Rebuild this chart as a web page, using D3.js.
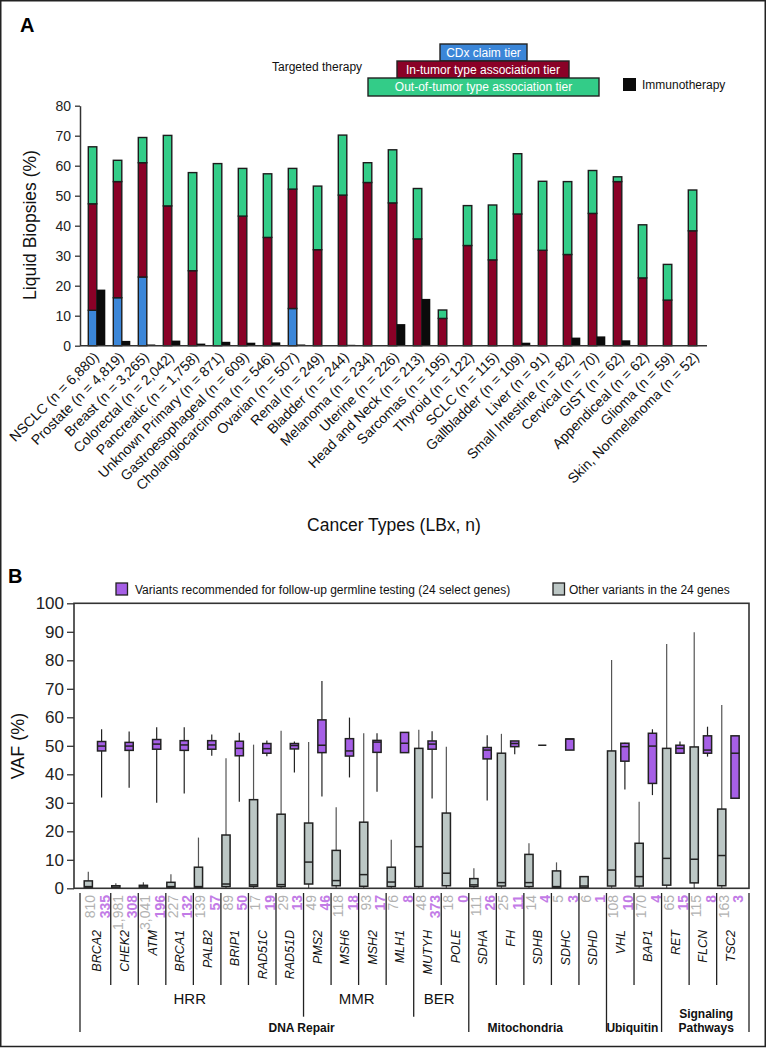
<!DOCTYPE html>
<html><head><meta charset="utf-8">
<script src="https://cdn.jsdelivr.net/npm/d3@7"></script>
<style>body{margin:0;background:#fff}svg{display:block;font-family:"Liberation Sans",Arial,Helvetica,sans-serif}</style>
</head><body>
<svg id="c" width="768" height="1048"></svg>
<script>
// ---------------- Panel A data ----------------
const cancerTypes = ["NSCLC","Prostate","Breast","Colorectal","Pancreatic","Unknown Primary","Gastroesophageal","Cholangiocarcinoma","Ovarian","Renal","Bladder","Melanoma","Uterine","Head and Neck","Sarcomas","Thyroid","SCLC","Gallbladder","Liver","Small Intestine","Cervical","GIST","Appendiceal","Glioma","Skin, Nonmelanoma"];
const nLBx = [6880,4819,3265,2042,1758,871,609,546,507,249,244,234,226,213,195,122,115,109,91,82,70,62,62,59,52];
const cdxTier      = [11.8,16.0,22.9,0,0,0,0,0,12.4,0,0,0,0,0,0,0,0,0,0,0,0,0,0,0,0];
const inTumorTier  = [35.5,38.7,38.1,46.6,25.0,0,43.2,36.1,39.8,32.0,50.2,54.4,47.6,35.6,9.1,33.4,28.6,43.9,31.8,30.4,44.1,54.7,22.6,15.2,38.3];
const outTumorTier = [19.0,7.1,8.4,23.5,32.7,60.7,15.9,21.2,6.9,21.2,20.0,6.6,17.7,16.8,2.8,13.3,18.3,20.1,23.0,24.3,14.3,1.6,17.7,11.9,13.6];
const immunotherapy = [18.7,1.6,0.4,1.7,0.7,1.3,1.0,1.1,0.4,0,0.3,0,7.2,15.6,0,0,0,1.0,0,2.7,3.1,1.8,0,0,0];
const yTicksA = [0,10,20,30,40,50,60,70,80];

// ---------------- Panel B data ----------------
const genes = ["BRCA2","CHEK2","ATM","BRCA1","PALB2","BRIP1","RAD51C","RAD51D","PMS2","MSH6","MSH2","MLH1","MUTYH","POLE","SDHA","FH","SDHB","SDHC","SDHD","VHL","BAP1","RET","FLCN","TSC2"];
const otherCounts = [810,1981,3041,227,139,89,17,29,49,118,93,76,48,18,111,25,14,5,6,108,170,65,115,163];
const recCounts   = [335,308,196,132,57,50,19,13,46,18,17,8,373,0,26,11,4,3,1,10,4,15,8,3];
// [min, q1, median, q3, max]
const otherStats = [
  [0,0.2,0.6,2.6,5.8],[0,0.1,0.4,0.9,1.8],[0,0.1,0.5,1.05,2.1],[0,0.2,0.6,2.1,4.9],
  [0,0.2,0.6,7.4,17.8],[0,0.6,1.5,18.7,45.6],[0,0.7,1.2,31.1,50.4],[0,0.6,1.3,26.0,55.3],
  [0,1.5,9.2,22.9,51.3],[0,0.9,2.7,13.3,28.4],[0,0.7,4.8,23.2,54.4],[0,0.6,2.2,7.4,17.0],
  [0,0.6,14.6,49.1,55.6],[0,0.9,5.3,26.4,49.7],[0,0.6,1.2,3.4,7.0],[0,0.8,2.0,47.4,54.2],
  [0,0.6,2.0,11.9,15.8],[0,0.2,0.6,6.1,9.1],[0,0.2,0.8,4.1,4.1],[0,0.8,6.4,48.2,80.1],
  [0,0.8,4.1,15.8,30.4],[0,1.1,10.5,49.1,85.7],[0,1.9,10.2,49.6,89.8],[0,0.9,11.5,27.8,64.3]
];
const recStats = [
  [31.9,48.2,49.9,51.5,55.8],[35.3,48.4,49.9,51.2,55.0],[30.0,48.8,50.6,52.2,56.5],[33.3,48.4,50.3,51.8,56.5],
  [46.5,48.8,50.3,51.8,54.0],[30.4,46.5,49.1,51.6,54.6],[46.3,47.4,49.0,50.8,51.9],[40.6,48.9,50.1,50.8,51.5],
  [32.2,47.6,50.2,59.1,72.7],[38.9,46.4,48.2,52.5,59.9],[33.9,47.7,51.3,51.9,54.4],[47.6,47.6,50.9,54.7,54.7],
  [31.5,48.8,50.6,51.7,55.1],null,[30.8,45.4,48.5,49.4,53.7],[47.0,49.7,50.8,51.7,51.7],
  [50.2,50.2,50.2,50.2,50.2],[48.5,48.5,52.4,52.4,52.4],null,[34.7,44.6,49.7,50.9,51.1],
  [32.7,36.8,49.9,54.4,55.8],[47.4,47.4,49.1,50.2,51.5],[46.2,47.4,48.5,53.5,56.7],[31.6,31.6,47.4,53.5,53.5]
];
const yTicksB = [0,10,20,30,40,50,60,70,80,90,100];
const subgroups = [{name:"HRR",from:0,to:7},{name:"MMR",from:8,to:11},{name:"BER",from:12,to:13}];
const groups = [
  {lines:["DNA Repair"],from:0,to:13,pos:0.57},
  {lines:["Mitochondria"],from:14,to:18,pos:0.41},
  {lines:["Ubiquitin"],from:19,to:20,pos:0.47},
  {lines:["Signaling","Pathways"],from:21,to:23,pos:0.51}
];

// ---------------- colors ----------------
const C = {cdx:"#3b86d8", inT:"#8a0127", outT:"#33cc88", immuno:"#0b0b0b", rec:"#a65fe6", other:"#bcc7c5",
           stroke:"#1c1c1c", recText:"#c27be6", otherText:"#b2b2b2"};

const svg = d3.select("#c");
svg.append("rect").attr("x",0.75).attr("y",0.75).attr("width",764.5).attr("height",1045.75)
  .attr("fill","none").attr("stroke","#222").attr("stroke-width",1.5);

// ================= PANEL A =================
svg.append("text").attr("x",20).attr("y",32).attr("font-size",20).attr("font-weight","bold").text("A");

const fmt = d3.format(",");
const labelsA = cancerTypes.map((c,i)=>`${c} (n = ${fmt(nLBx[i])})`);
const yA = d3.scaleLinear().domain([0,80]).range([345.7,105.7]);
const xA = d3.scaleBand().domain(labelsA).range([80,705]);
const sub = d3.scaleBand().domain(["targeted","immuno"]).range([8.3,25.3]);

const rowsA = labelsA.map((l,i)=>({label:l, cdx:cdxTier[i], inT:inTumorTier[i], outT:outTumorTier[i], immuno:immunotherapy[i]}));
const stack = d3.stack().keys(["cdx","inT","outT"])(rowsA);
const gA = svg.append("g");
stack.forEach(layer=>{
  gA.selectAll(null).data(layer.filter(d=>d[1]-d[0]>0)).join("rect")
    .attr("x",d=>xA(d.data.label)+sub("targeted"))
    .attr("width",sub.bandwidth())
    .attr("y",d=>yA(d[1]))
    .attr("height",d=>yA(d[0])-yA(d[1]))
    .attr("fill",C[layer.key]).attr("stroke",C.stroke).attr("stroke-width",1.4);
});
gA.selectAll(null).data(rowsA.filter(d=>d.immuno>0)).join("rect")
  .attr("x",d=>xA(d.label)+sub("immuno"))
  .attr("width",sub.bandwidth())
  .attr("y",d=>yA(d.immuno))
  .attr("height",d=>yA(0)-yA(d.immuno))
  .attr("fill",C.immuno);

const axA = svg.append("g").attr("transform","translate(80,0)")
  .call(d3.axisLeft(yA).tickValues(yTicksA).tickSize(5).tickSizeOuter(0).tickPadding(4));
axA.select(".domain").attr("stroke","#333").attr("stroke-width",1.5);
axA.selectAll(".tick line").attr("stroke","#333").attr("stroke-width",1.3);
axA.selectAll(".tick text").attr("font-size",14).attr("fill","#222").attr("font-family","inherit");
svg.append("line").attr("x1",80).attr("x2",707).attr("y1",yA(0)).attr("y2",yA(0)).attr("stroke","#333").attr("stroke-width",1.6);

svg.append("g").selectAll("text").data(labelsA).join("text")
  .attr("transform",d=>`translate(${xA(d)+sub("immuno")+3},358) rotate(-45)`)
  .attr("text-anchor","end").attr("font-size",14).attr("fill","#111").text(d=>d);

svg.append("text").attr("transform","translate(36,225) rotate(-90)").attr("text-anchor","middle")
  .attr("font-size",17.5).attr("fill","#111").text("Liquid Biopsies (%)");
svg.append("text").attr("x",394).attr("y",531).attr("text-anchor","middle")
  .attr("font-size",17.5).attr("fill","#111").text("Cancer Types (LBx, n)");

// legend A
const legA = svg.append("g").attr("font-size",12);
legA.append("text").attr("x",272).attr("y",71).attr("fill","#111").text("Targeted therapy");
const legBoxes = [
  {x:440,y:44,w:87,h:17,fill:C.cdx,text:"CDx claim tier"},
  {x:397,y:61,w:172,h:17,fill:C.inT,text:"In-tumor type association tier"},
  {x:368,y:78,w:231,h:18,fill:C.outT,text:"Out-of-tumor type association tier"}
];
legBoxes.forEach(b=>{
  legA.append("rect").attr("x",b.x).attr("y",b.y).attr("width",b.w).attr("height",b.h)
    .attr("fill",b.fill).attr("stroke","#222").attr("stroke-width",1.4);
  legA.append("text").attr("x",b.x+b.w/2).attr("y",b.y+b.h/2+4.3).attr("text-anchor","middle")
    .attr("fill","#fff").text(b.text);
});
legA.append("rect").attr("x",623).attr("y",78).attr("width",13).attr("height",13).attr("fill",C.immuno);
legA.append("text").attr("x",642).attr("y",89).attr("fill","#111").text("Immunotherapy");

// ================= PANEL B =================
svg.append("text").attr("x",8).attr("y",583).attr("font-size",20).attr("font-weight","bold").text("B");

const yB = d3.scaleLinear().domain([0,100]).range([888.3,603.3]);
const xB = d3.scaleBand().domain(genes).range([83.2,744.2]);
const boxOff = {other:1, rec:14.3};
const boxW = 8.2;

// legend B
const legB = svg.append("g").attr("font-size",12).attr("fill","#111");
legB.append("rect").attr("x",116).attr("y",583).attr("width",11.5).attr("height",12).attr("fill",C.rec).attr("stroke","#222").attr("stroke-width",1.3);
legB.append("text").attr("x",135).attr("y",593.5).text("Variants recommended for follow-up germline testing (24 select genes)");
legB.append("rect").attr("x",553).attr("y",583).attr("width",11.5).attr("height",12).attr("fill",C.other).attr("stroke","#222").attr("stroke-width",1.3);
legB.append("text").attr("x",569).attr("y",593.5).text("Other variants in the 24 genes");

function drawBoxes(statsArr, kind, fill, whiskerColor){
  const g = svg.append("g");
  const rows = genes.map((gn,i)=>({gene:gn, s:statsArr[i]})).filter(d=>d.s);
  const cx = d=>xB(d.gene)+boxOff[kind]+boxW/2;
  g.selectAll(null).data(rows).join("line")
    .attr("x1",cx).attr("x2",cx).attr("y1",d=>yB(d.s[4])).attr("y2",d=>yB(d.s[3]))
    .attr("stroke",whiskerColor).attr("stroke-width",1.2);
  g.selectAll(null).data(rows).join("line")
    .attr("x1",cx).attr("x2",cx).attr("y1",d=>yB(d.s[1])).attr("y2",d=>yB(d.s[0]))
    .attr("stroke",whiskerColor).attr("stroke-width",1.2);
  g.selectAll(null).data(rows).join("rect")
    .attr("x",d=>xB(d.gene)+boxOff[kind]).attr("width",boxW)
    .attr("y",d=>yB(d.s[3])).attr("height",d=>yB(d.s[1])-yB(d.s[3]))
    .attr("fill",fill).attr("stroke","#222").attr("stroke-width",1.5);
  g.selectAll(null).data(rows).join("line")
    .attr("x1",d=>xB(d.gene)+boxOff[kind]).attr("x2",d=>xB(d.gene)+boxOff[kind]+boxW)
    .attr("y1",d=>yB(d.s[2])).attr("y2",d=>yB(d.s[2]))
    .attr("stroke","#222").attr("stroke-width",1.5);
}
drawBoxes(otherStats,"other",C.other,"#555");
drawBoxes(recStats,"rec",C.rec,"#222");

// frame and axis
svg.append("rect").attr("x",74).attr("y",yB(100)).attr("width",675).attr("height",yB(0)-yB(100))
  .attr("fill","none").attr("stroke","#333").attr("stroke-width",1.6);
const axB = svg.append("g").attr("transform","translate(74,0)")
  .call(d3.axisLeft(yB).tickValues(yTicksB).tickSize(7).tickSizeOuter(0).tickPadding(3));
axB.select(".domain").remove();
axB.selectAll(".tick line").attr("stroke","#333").attr("stroke-width",1.3);
axB.selectAll(".tick text").attr("font-size",17).attr("fill","#222").attr("font-family","inherit");
svg.append("text").attr("transform","translate(24,746) rotate(-90)").attr("text-anchor","middle")
  .attr("font-size",18).attr("fill","#111").text("VAF (%)");

// counts
const gC = svg.append("g").attr("font-size",14);
gC.selectAll(null).data(genes).join("text")
  .attr("transform",(d)=>`translate(${xB(d)+12},895) rotate(-90)`)
  .attr("text-anchor","end").attr("fill",C.otherText).text((d,i)=>fmt(otherCounts[i]));
gC.selectAll(null).data(genes).join("text")
  .attr("transform",(d)=>`translate(${xB(d)+26.5},895) rotate(-90)`)
  .attr("text-anchor","end").attr("fill",C.recText).attr("font-weight","bold").text((d,i)=>fmt(recCounts[i]));
// gene names
svg.append("g").selectAll("text").data(genes).join("text")
  .attr("transform",d=>`translate(${xB(d)+xB.bandwidth()/2+4.5},930) rotate(-90)`)
  .attr("text-anchor","end").attr("font-size",12.5).attr("font-style","italic").attr("fill","#111").text(d=>d);

// separators
const boundX = b => b===0 ? 80 : (b===24 ? 749 : xB(genes[b]));
const groupStarts = new Set(groups.map(g=>g.from).concat([24]));
const subStarts = new Set(subgroups.map(s=>s.from));
const bounds = d3.range(25).map(b=>({b, y2: groupStarts.has(b) ? 1032 : (subStarts.has(b) ? 1016.7 : 985)}));
svg.append("g").selectAll("line").data(bounds).join("line")
  .attr("x1",d=>boundX(d.b)).attr("x2",d=>boundX(d.b)).attr("y1",893).attr("y2",d=>d.y2)
  .attr("stroke","#222").attr("stroke-width",1.3);

svg.append("g").selectAll("text").data(subgroups).join("text")
  .attr("x",d=>(boundX(d.from)+boundX(d.to+1))/2-2).attr("y",1004)
  .attr("text-anchor","middle").attr("font-size",15).attr("fill","#111").text(d=>d.name);

const gG = svg.append("g").attr("font-size",12).attr("font-weight","bold").attr("fill","#111");
groups.forEach(g=>{
  const x0 = boundX(g.from), x1 = boundX(g.to+1);
  const x = x0 + (x1-x0)*g.pos;
  g.lines.forEach((ln,k)=>{
    gG.append("text").attr("x",x).attr("y",1032-(g.lines.length-1-k)*14).attr("text-anchor","middle").text(ln);
  });
});
</script>
</body></html>
